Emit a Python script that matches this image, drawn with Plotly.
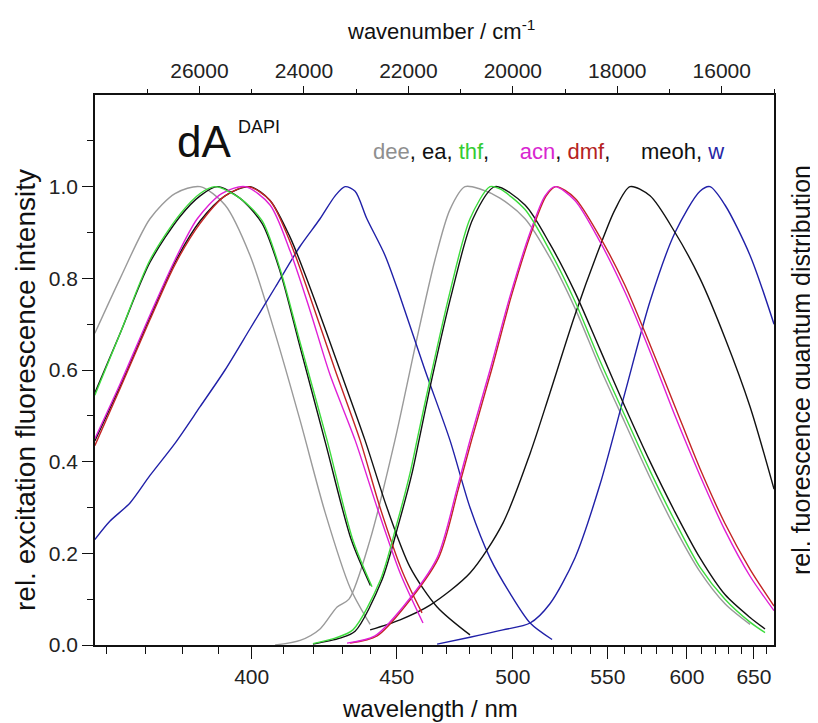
import plotly.graph_objects as go

# ---------------- data (wavelength in nm, relative intensity) ----------------
dee_ex_nm = [357.1, 363.4, 371.1, 377.8, 384.8, 392.0, 399.5, 407.3, 415.4, 423.8, 432.6, 439.9]
dee_ex_y  = [0.68, 0.80, 0.93, 0.985, 1.0, 0.96, 0.85, 0.68, 0.49, 0.29, 0.125, 0.045]

thf_ex_nm = [357.1, 363.4, 371.1, 379.2, 384.8, 389.1, 396.4, 403.2, 408.9, 415.4, 424.5, 433.6, 440.6]
thf_ex_y  = [0.545, 0.68, 0.84, 0.94, 0.985, 1.0, 0.975, 0.926, 0.82, 0.66, 0.447, 0.229, 0.127]

ea_ex_nm  = [357.1, 363.4, 371.1, 379.2, 384.8, 389.8, 396.4, 403.2, 408.9, 415.4, 424.0, 433.0, 440.0]
ea_ex_y   = [0.55, 0.68, 0.835, 0.935, 0.98, 1.0, 0.975, 0.92, 0.815, 0.65, 0.44, 0.23, 0.13]

acn_ex_nm = [357.1, 363.4, 371.1, 377.8, 384.0, 391.0, 398.0, 405.7, 412.1, 418.7, 425.5, 434.4, 442.5, 451.3, 460.4]
acn_ex_y  = [0.45, 0.57, 0.72, 0.84, 0.93, 0.985, 1.0, 0.96, 0.86, 0.73, 0.59, 0.447, 0.30, 0.157, 0.048]

dmf_ex_nm = [357.1, 363.4, 371.1, 377.8, 384.8, 392.0, 398.9, 405.7, 412.1, 418.7, 427.3, 436.2, 443.6, 452.4, 460.0]
dmf_ex_y  = [0.435, 0.56, 0.71, 0.83, 0.92, 0.98, 1.0, 0.97, 0.88, 0.76, 0.60, 0.447, 0.30, 0.157, 0.07]

meoh_ex_nm = [357.1, 363.4, 371.1, 377.8, 384.8, 392.0, 399.5, 405.7, 412.1, 418.7, 429.0, 438.0, 446.2, 455.2, 466.2, 480.3]
meoh_ex_y  = [0.445, 0.565, 0.715, 0.835, 0.925, 0.98, 1.0, 0.97, 0.89, 0.78, 0.60, 0.447, 0.30, 0.17, 0.083, 0.022]

w_ex_nm = [357.1, 360.8, 365.9, 371.1, 377.8, 384.8, 392.0, 399.5, 407.3, 415.4, 422.1, 427.3, 430.8, 434.4,
           438.7, 445.5, 451.3, 461.2, 471.6, 480.3, 489.3, 498.6, 508.4, 519.5]
w_ex_y  = [0.23, 0.27, 0.31, 0.37, 0.44, 0.52, 0.60, 0.69, 0.78, 0.87, 0.93, 0.98, 1.0, 0.99,
           0.93, 0.85, 0.76, 0.60, 0.447, 0.30, 0.19, 0.113, 0.048, 0.012]

dee_em_nm = [407.3, 415.4, 422.1, 428.0, 432.2, 439.9, 449.3, 457.2, 465.3, 471.6, 478.1, 484.8, 493.9,
             505.9, 518.4, 531.6, 545.5, 560.1, 575.6, 591.9, 609.1, 627.4, 646.9]
dee_em_y  = [0.0, 0.01, 0.035, 0.083, 0.10, 0.23, 0.447, 0.65, 0.84, 0.95, 1.0, 0.995, 0.975,
             0.93, 0.845, 0.735, 0.605, 0.485, 0.365, 0.255, 0.16, 0.09, 0.045]

thf_em_nm = [419.7, 427.3, 433.6, 443.6, 450.1, 455.2, 458.0, 463.3, 471.6, 480.3, 489.3, 493.9, 505.9,
             518.4, 531.6, 545.5, 560.1, 575.6, 591.9, 609.1, 627.4, 646.9, 659.1]
thf_em_y  = [0.003, 0.015, 0.033, 0.14, 0.266, 0.375, 0.447, 0.58, 0.77, 0.93, 1.0, 0.995, 0.95,
             0.86, 0.75, 0.62, 0.50, 0.38, 0.27, 0.17, 0.10, 0.05, 0.027]

ea_em_nm = [419.7, 429.0, 434.4, 444.2, 450.8, 456.0, 458.8, 464.0, 472.5, 481.6, 491.6, 505.9,
            518.4, 531.6, 545.5, 560.1, 575.6, 591.9, 609.1, 627.4, 646.9, 659.1]
ea_em_y  = [0.002, 0.015, 0.03, 0.14, 0.266, 0.375, 0.447, 0.58, 0.77, 0.93, 1.0, 0.96,
            0.875, 0.77, 0.645, 0.52, 0.40, 0.29, 0.19, 0.11, 0.06, 0.035]

acn_em_nm = [431.5, 441.7, 452.4, 466.2, 474.6, 480.3, 489.3, 498.6, 508.4, 515.9, 521.0, 531.6,
             545.5, 560.1, 575.6, 591.9, 609.1, 627.4, 646.9, 666.7]
acn_em_y  = [0.004, 0.02, 0.083, 0.19, 0.34, 0.447, 0.60, 0.76, 0.90, 0.98, 1.0, 0.97,
             0.88, 0.77, 0.64, 0.50, 0.37, 0.25, 0.15, 0.075]

dmf_em_nm = [432.6, 442.5, 453.0, 466.8, 475.2, 481.0, 490.0, 499.2, 509.0, 516.5, 521.5, 531.6,
             545.5, 560.1, 575.6, 591.9, 609.1, 627.4, 646.9, 666.7]
dmf_em_y  = [0.004, 0.02, 0.083, 0.19, 0.34, 0.447, 0.60, 0.76, 0.90, 0.98, 1.0, 0.975,
             0.89, 0.785, 0.655, 0.52, 0.385, 0.265, 0.165, 0.085]

meoh_em_nm = [439.9, 451.3, 463.3, 480.3, 495.3, 508.4, 518.4, 531.6, 545.5, 554.2, 563.2, 575.6,
              591.9, 609.1, 627.4, 646.9, 666.7]
meoh_em_y  = [0.033, 0.055, 0.087, 0.157, 0.266, 0.418, 0.55, 0.72, 0.87, 0.95, 1.0, 0.98,
              0.90, 0.80, 0.67, 0.52, 0.34]

w_em_nm = [466.2, 480.3, 495.3, 508.4, 518.4, 531.6, 545.5, 560.1, 575.6, 591.9, 609.1, 616.3,
           627.4, 646.9, 666.7]
w_em_y  = [0.002, 0.017, 0.033, 0.048, 0.09, 0.19, 0.35, 0.55, 0.75, 0.90, 0.99, 1.0,
           0.96, 0.85, 0.70]

# axis ticks
nm_major = [400, 450, 500, 550, 600, 650]
nm_minor = [360, 370, 380, 390, 410, 420, 430, 440, 460, 470, 480, 490, 510, 520, 530, 540,
            560, 570, 580, 590, 610, 620, 630, 640, 660]
wn_major = [16000, 18000, 20000, 22000, 24000, 26000]
wn_minor = [15000, 17000, 19000, 21000, 23000, 25000, 27000]
y_major = [0.0, 0.2, 0.4, 0.6, 0.8, 1.0]
y_minor = [0.1, 0.3, 0.5, 0.7, 0.9, 1.1]

# ---------------- colours ----------------
C_GRAY = "#9a9a9a"
C_BLACK = "#111111"
C_GREEN = "#3ddc3d"
C_MAG = "#e020d6"
C_RED = "#c42424"
C_BLUE = "#2020a8"

curves = [
    (dee_ex_nm, dee_ex_y, C_GRAY), (dee_em_nm, dee_em_y, C_GRAY),
    (w_ex_nm, w_ex_y, C_BLUE), (w_em_nm, w_em_y, C_BLUE),
    (meoh_ex_nm, meoh_ex_y, C_BLACK), (meoh_em_nm, meoh_em_y, C_BLACK),
    (ea_ex_nm, ea_ex_y, C_BLACK), (ea_em_nm, ea_em_y, C_BLACK),
    (dmf_ex_nm, dmf_ex_y, C_RED), (dmf_em_nm, dmf_em_y, C_RED),
    (acn_ex_nm, acn_ex_y, C_MAG), (acn_em_nm, acn_em_y, C_MAG),
    (thf_ex_nm, thf_ex_y, C_GREEN), (thf_em_nm, thf_em_y, C_GREEN),
]

fig = go.Figure()
for nm, y, col in curves:
    fig.add_trace(go.Scatter(
        x=[1e7 / v for v in nm], y=y, mode="lines",
        line=dict(color=col, width=1.4, shape="spline", smoothing=0.8),
        showlegend=False, hoverinfo="skip"))

# dummy trace to activate the top (wavenumber) axis
fig.add_trace(go.Scatter(x=[20000], y=[0.5], xaxis="x2", mode="markers",
                         marker=dict(opacity=0), showlegend=False, hoverinfo="skip"))

FONT = "Liberation Sans, Arial, sans-serif"
tickfont = dict(family=FONT, size=21, color="#222222")

# page has an 8px body margin; figure coordinates are page - 8
OFF = 8
W, H = 810, 715
L, T = 95 - OFF, 95 - OFF
R = W - (774 - OFF)
B = H - (645 - OFF)
PW, PH = W - L - R, H - T - B


def px(page_x):
    return (page_x - OFF - L) / PW


def py(page_y):
    return (H - B - (page_y - OFF)) / PH


fig.update_layout(
    width=W, height=H,
    margin=dict(l=L, r=R, t=T, b=B),
    paper_bgcolor="white", plot_bgcolor="white",
    font=dict(family=FONT, color="#111111"),
    xaxis=dict(
        range=[28000, 15000], showgrid=False, zeroline=False,
        tickmode="array", tickvals=[1e7 / v for v in nm_major], ticktext=[str(v) for v in nm_major],
        ticks="outside", ticklen=12, tickwidth=1.3, tickcolor="#111111",
        showline=True, linecolor="#111111", linewidth=1.6, tickfont=tickfont,
        minor=dict(tickmode="array", tickvals=[1e7 / v for v in nm_minor], ticks="outside",
                   ticklen=7, tickwidth=1.3, tickcolor="#111111", showgrid=False),
    ),
    xaxis2=dict(
        overlaying="x", side="top", anchor="y",
        range=[28000, 15000], showgrid=False, zeroline=False,
        tickmode="array", tickvals=wn_major, ticktext=[str(v) for v in wn_major],
        ticks="outside", ticklen=7, tickwidth=1.3, tickcolor="#111111",
        showline=True, linecolor="#111111", linewidth=1.6, tickfont=tickfont,
        minor=dict(tickmode="array", tickvals=wn_minor, ticks="outside",
                   ticklen=4, tickwidth=1.3, tickcolor="#111111", showgrid=False),
    ),
    yaxis=dict(
        range=[0, 1.2], showgrid=False, zeroline=False,
        tickmode="array", tickvals=y_major, ticktext=[f"{v:.1f}" for v in y_major],
        ticks="outside", ticklen=11, tickwidth=1.3, tickcolor="#111111",
        showline=True, mirror=True, linecolor="#111111", linewidth=1.6, tickfont=tickfont,
        minor=dict(tickmode="array", tickvals=y_minor, ticks="outside",
                   ticklen=6, tickwidth=1.3, tickcolor="#111111", showgrid=False),
    ),
)

ann = []
ann.append(dict(text="wavelength / nm", x=px(430), y=py(708), xref="paper", yref="paper",
                showarrow=False, font=dict(family=FONT, size=24, color="#111111"),
                xanchor="center", yanchor="middle"))
ann.append(dict(text="wavenumber / cm<sup>-1</sup>", x=px(441), y=py(30), xref="paper", yref="paper",
                showarrow=False, font=dict(family=FONT, size=22, color="#111111"),
                xanchor="center", yanchor="middle"))
ann.append(dict(text="rel. excitation fluorescence intensity", x=px(25), y=py(390),
                xref="paper", yref="paper", textangle=-90, showarrow=False,
                font=dict(family=FONT, size=28, color="#111111"),
                xanchor="center", yanchor="middle"))
ann.append(dict(text="rel. fuorescence quantum distribution", x=px(801), y=py(370),
                xref="paper", yref="paper", textangle=-90, showarrow=False,
                font=dict(family=FONT, size=25, color="#111111"),
                xanchor="center", yanchor="middle"))
ann.append(dict(text="dA", x=px(175), y=py(141), xref="paper", yref="paper",
                showarrow=False, font=dict(family=FONT, size=44, color="#111111"),
                xanchor="left", yanchor="middle"))
ann.append(dict(text="DAPI", x=px(236), y=py(127), xref="paper", yref="paper",
                showarrow=False, font=dict(family=FONT, size=18, color="#111111"),
                xanchor="left", yanchor="middle"))
sp = "\u00a0"
legend_html = (
    f"<span style='color:#8f8f8f'>dee</span>, ea, "
    f"<span style='color:#33cc33'>thf</span>,{sp*5}"
    f"<span style='color:#d826d0'>acn</span>, "
    f"<span style='color:#b52222'>dmf</span>,{sp*5}meoh, "
    f"<span style='color:#2626a6'>w</span>"
)
ann.append(dict(text=legend_html, x=px(371), y=py(151), xref="paper", yref="paper",
                showarrow=False, font=dict(family=FONT, size=22, color="#111111"),
                xanchor="left", yanchor="middle"))
fig.update_layout(annotations=ann)

fig.write_html("out.html")
